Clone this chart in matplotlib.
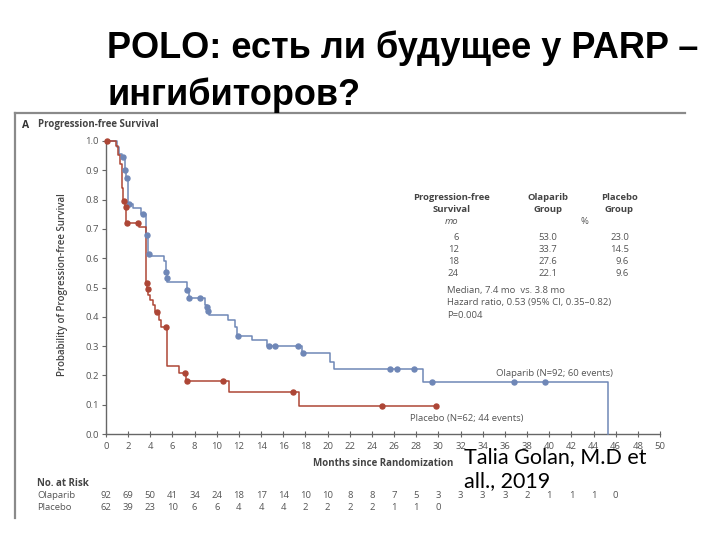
import numpy as np
import matplotlib
matplotlib.use("Agg")
import matplotlib.pyplot as plt
from matplotlib.lines import Line2D
import matplotlib.transforms as mtransforms

# ---------------- data ----------------
ola_times = [0, 1.0, 1.2, 1.4, 1.7, 1.85, 2.0, 2.4, 3.2, 3.6, 3.8, 4.0, 5.2, 5.4, 5.48, 5.55,
             7.3, 7.45, 8.9, 9.12, 9.22, 9.3, 11.0, 11.6, 11.85, 13.15, 14.5, 17.65, 20.2,
             20.6, 28.6, 45.3]
ola_surv = [1.0, 0.978, 0.957, 0.945, 0.90, 0.875, 0.785, 0.77, 0.75, 0.68, 0.615, 0.607, 0.59,
            0.554, 0.531, 0.52, 0.49, 0.465, 0.44, 0.434, 0.42, 0.406, 0.389, 0.366, 0.334,
            0.32, 0.30, 0.277, 0.247, 0.221, 0.176, 0.0]
ola_censor = [1.5, 1.75, 1.9, 2.1, 3.3, 3.7, 3.9, 5.45, 5.5, 7.35, 7.5, 8.5, 9.15, 9.25, 11.95,
              14.7, 15.25, 17.35, 17.8, 25.6, 26.3, 27.8, 29.4, 36.85, 39.6]

pla_times = [0, 0.9, 1.1, 1.3, 1.4, 1.5, 1.75, 1.85, 3.0, 3.6, 3.74, 3.8, 4.0, 4.2, 4.4, 4.8,
             4.95, 5.55, 6.6, 7.25, 11.1, 17.4]
pla_surv = [1.0, 0.984, 0.952, 0.92, 0.84, 0.795, 0.776, 0.72, 0.705, 0.514, 0.494, 0.474,
            0.457, 0.44, 0.417, 0.389, 0.366, 0.232, 0.207, 0.181, 0.144, 0.096]
pla_end = 29.8
pla_censor = [0.05, 1.65, 1.8, 1.9, 2.9, 3.7, 3.76, 4.6, 5.4, 7.1, 7.3, 10.6, 16.85, 24.9, 29.8]

x_ticks = list(range(0, 51, 2))
y_ticks = [0.0, 0.1, 0.2, 0.3, 0.4, 0.5, 0.6, 0.7, 0.8, 0.9, 1.0]

risk_months_ola = list(range(0, 47, 2))
risk_ola = [92, 69, 50, 41, 34, 24, 18, 17, 14, 10, 10, 8, 8, 7, 5, 3, 3, 3, 3, 2, 1, 1, 1, 0]
risk_months_pla = list(range(0, 31, 2))
risk_pla = [62, 39, 23, 10, 6, 6, 4, 4, 4, 2, 2, 2, 2, 1, 1, 0]

tbl_months = ["6", "12", "18", "24"]
tbl_ola = ["53.0", "33.7", "27.6", "22.1"]
tbl_pla = ["23.0", "14.5", "9.6", "9.6"]

title_line1 = "POLO: есть ли будущее у PARP –"
title_line2 = "ингибиторов?"
citation = "Talia Golan, M.D et\nall., 2019"

# ---------------- figure ----------------
W, H = 720, 540
fig = plt.figure(figsize=(7.2, 5.4), dpi=100)
fig.patch.set_facecolor("white")

def fx(px):
    return px / W

def fy(py):
    return 1 - py / H

BLUE = "#6f87b7"
RED = "#ad4636"
GRAY = "#555555"
FONT = "Open Sans"

ax = fig.add_axes([fx(106), fy(434), fx(660) - fx(106), fy(141) - fy(434)])
ax.set_xlim(0, 50)
ax.set_ylim(0, 1.0)
for s in ["top", "right"]:
    ax.spines[s].set_visible(False)
for s in ["left", "bottom"]:
    ax.spines[s].set_color("#666666")
    ax.spines[s].set_linewidth(1.0)

ax.set_xticks(x_ticks)
ax.set_yticks(y_ticks)
ax.set_xticklabels([str(t) for t in x_ticks], fontsize=6.8, color=GRAY, family=FONT)
ax.set_yticklabels([f"{t:.1f}" for t in y_ticks], fontsize=6.8, color=GRAY, family=FONT)
ax.tick_params(axis="x", direction="inout", length=5, width=0.8, color="#666666", pad=3)
ax.tick_params(axis="y", direction="out", length=3, width=0.8, color="#666666", pad=2)


def step_curve(times, surv, end=None):
    t = list(times)
    s = list(surv)
    if end is not None:
        t = t + [end]
        s = s + [s[-1]]
    return np.array(t), np.array(s)


def surv_at(times, surv, tc):
    idx = np.searchsorted(np.array(times), np.array(tc), side="right") - 1
    return np.array(surv)[idx]

t_o, s_o = step_curve(ola_times, ola_surv)
ax.step(t_o, s_o, where="post", color=BLUE, lw=1.1, clip_on=False, zorder=3)
ax.plot(ola_censor, surv_at(ola_times, ola_surv, ola_censor), "o", color=BLUE, ms=3.6,
        clip_on=False, zorder=4)

t_p, s_p = step_curve(pla_times, pla_surv, pla_end)
ax.step(t_p, s_p, where="post", color=RED, lw=1.1, clip_on=False, zorder=3)
ax.plot(pla_censor, surv_at(pla_times, pla_surv, pla_censor), "o", color=RED, ms=3.6,
        clip_on=False, zorder=4)

# curve labels
ax.text(35.2, 0.205, "Olaparib (N=92; 60 events)", fontsize=6.8, color=GRAY, family=FONT,
        va="center", ha="left")
ax.text(27.4, 0.052, "Placebo (N=62; 44 events)", fontsize=6.8, color=GRAY, family=FONT,
        va="center", ha="left")

# axis labels
fig.text(fx(383), fy(463), "Months since Randomization", fontsize=7, fontweight="bold",
         color="#444444", family=FONT, ha="center", va="center")
fig.text(fx(63), fy(285), "Probability of Progression-free Survival", fontsize=7,
         fontweight="semibold", color="#444444", family=FONT, rotation=90, ha="center",
         va="center")

# panel label
fig.text(fx(22), fy(125), "A", fontsize=7.5, fontweight="bold", color="#333333",
         family=FONT, ha="left", va="center")
fig.text(fx(38), fy(125), "Progression-free Survival", fontsize=7, fontweight="bold",
         color="#444444", family=FONT, ha="left", va="center")

# inset table
tfs = 6.8
fig.text(fx(452), fy(197), "Progression-free", fontsize=tfs, fontweight="bold", color="#444444",
         family=FONT, ha="center", va="center")
fig.text(fx(452), fy(209), "Survival", fontsize=tfs, fontweight="bold", color="#444444",
         family=FONT, ha="center", va="center")
fig.text(fx(452), fy(221), "mo", fontsize=tfs, style="italic", color=GRAY,
         family=FONT, ha="center", va="center")
fig.text(fx(548), fy(197), "Olaparib", fontsize=tfs, fontweight="bold", color="#444444",
         family=FONT, ha="center", va="center")
fig.text(fx(548), fy(209), "Group", fontsize=tfs, fontweight="bold", color="#444444",
         family=FONT, ha="center", va="center")
fig.text(fx(619), fy(197), "Placebo", fontsize=tfs, fontweight="bold", color="#444444",
         family=FONT, ha="center", va="center")
fig.text(fx(619), fy(209), "Group", fontsize=tfs, fontweight="bold", color="#444444",
         family=FONT, ha="center", va="center")
fig.text(fx(584), fy(221), "%", fontsize=tfs, color=GRAY, family=FONT, ha="center",
         va="center")
for i, (m, o, p) in enumerate(zip(tbl_months, tbl_ola, tbl_pla)):
    yy = 237 + i * 12
    fig.text(fx(459), fy(yy), m, fontsize=tfs, color=GRAY, family=FONT, ha="right",
             va="center")
    fig.text(fx(548), fy(yy), o, fontsize=tfs, color=GRAY, family=FONT, ha="center",
             va="center")
    fig.text(fx(629), fy(yy), p, fontsize=tfs, color=GRAY, family=FONT, ha="right",
             va="center")
fig.text(fx(447), fy(290), "Median, 7.4 mo  vs. 3.8 mo", fontsize=tfs, color=GRAY,
         family=FONT, ha="left", va="center")
fig.text(fx(447), fy(302.5), "Hazard ratio, 0.53 (95% CI, 0.35–0.82)", fontsize=tfs,
         color=GRAY, family=FONT, ha="left", va="center")
fig.text(fx(447), fy(315), "P=0.004", fontsize=tfs, color=GRAY, family=FONT, ha="left",
         va="center")

# number at risk
fig.text(fx(37), fy(483), "No. at Risk", fontsize=7, fontweight="bold", color="#444444",
         family=FONT, ha="left", va="center")
fig.text(fx(37), fy(495), "Olaparib", fontsize=6.8, color=GRAY, family=FONT, ha="left",
         va="center")
fig.text(fx(37), fy(507), "Placebo", fontsize=6.8, color=GRAY, family=FONT, ha="left",
         va="center")
trans_risk = mtransforms.blended_transform_factory(ax.transData, fig.transFigure)
for m, n in zip(risk_months_ola, risk_ola):
    ax.text(m, fy(495), str(n), transform=trans_risk, fontsize=6.8, color=GRAY, family=FONT,
            ha="center", va="center")
for m, n in zip(risk_months_pla, risk_pla):
    ax.text(m, fy(507), str(n), transform=trans_risk, fontsize=6.8, color=GRAY, family=FONT,
            ha="center", va="center")

# embedded picture frame
fig.add_artist(Line2D([fx(15), fx(685)], [fy(113), fy(113)], color="#8a8a8a", lw=1.6))
fig.add_artist(Line2D([fx(15), fx(15)], [fy(113), fy(518)], color="#8a8a8a", lw=1.6))

# slide title
TFONT = ["Liberation Sans", "DejaVu Sans"]
fig.text(fx(107), fy(58), title_line1, fontsize=26, fontweight="bold", color="black",
         family=TFONT, ha="left", va="baseline")
fig.text(fx(107), fy(105), title_line2, fontsize=26, fontweight="bold", color="black",
         family=TFONT, ha="left", va="baseline")

# citation
fig.text(fx(464), fy(487), citation, fontsize=15.5, color="black", family="Lato",
         ha="left", va="baseline", linespacing=1.25)

fig.savefig("out.png", dpi=100)
